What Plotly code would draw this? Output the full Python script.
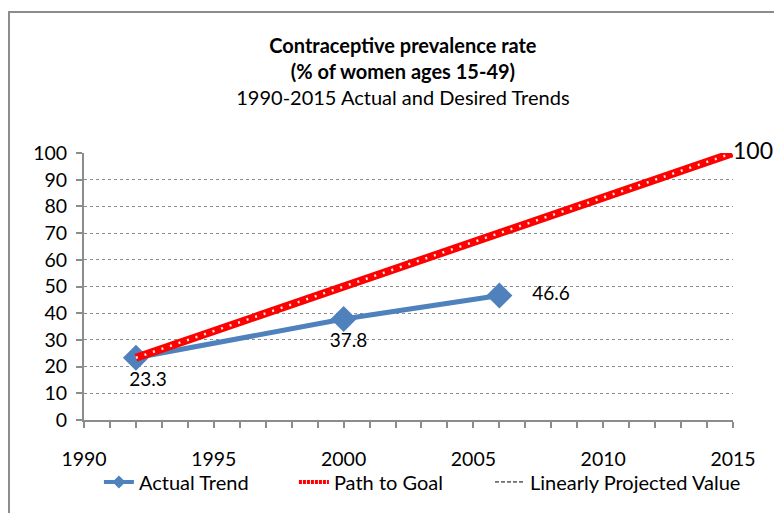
import plotly.graph_objects as go

# data
actual_years = [1992, 2000, 2006]
actual_vals = [23.3, 37.8, 46.6]
goal_years = [1992, 2015]
goal_vals = [23.3, 100]

FONT = "Lato"
BLUE = "#4F81BD"
GRAY = "#8c8c8c"

fig = go.Figure()

fig.add_trace(go.Scatter(
    x=actual_years, y=actual_vals, name="Actual Trend", showlegend=False,
    mode="lines+markers+text", cliponaxis=False,
    line=dict(color=BLUE, width=5),
    marker=dict(symbol="diamond", size=20, color=BLUE),
    text=["     %s" % actual_vals[0], "  %s" % actual_vals[1], "    %s" % actual_vals[2]],
    textposition=["bottom center", "bottom center", "middle right"],
    textfont=dict(size=19, color="black", family=FONT),
))

fig.add_trace(go.Scatter(
    x=goal_years, y=goal_vals, name="Path to Goal", showlegend=False,
    mode="lines+text", cliponaxis=False,
    line=dict(color="#ff0000", width=8),
    text=["", str(goal_vals[-1])],
    textposition=["middle right", "middle right"],
    textfont=dict(size=23, color="black", family=FONT),
))
# white dots inside the red line
fig.add_trace(go.Scatter(
    x=goal_years, y=goal_vals, mode="lines", showlegend=False, hoverinfo="skip",
    line=dict(color="rgba(255,255,255,0.9)", width=2.5, dash="2px,7px"),
))

# legend entries
fig.add_trace(go.Scatter(
    x=[None], y=[None], name="Actual Trend", mode="lines+markers",
    line=dict(color=BLUE, width=4), marker=dict(symbol="diamond", size=10, color=BLUE),
))
fig.add_trace(go.Scatter(
    x=[None], y=[None], name="Path to Goal", mode="lines",
    line=dict(color="#ff0000", width=4, dash="3px,1px"),
))
fig.add_trace(go.Scatter(
    x=[None], y=[None], name="Linearly Projected Value", mode="lines", legend="legend2",
    line=dict(color="black", width=1, dash="4px,2px"),
))

leg = dict(orientation="h", xanchor="left", y=-0.232, yanchor="middle",
           bgcolor="rgba(0,0,0,0)", font=dict(size=20), tracegroupgap=0)

fig.update_layout(
    width=782, height=513,
    paper_bgcolor="white", plot_bgcolor="white",
    margin=dict(l=76, r=57, t=145, b=101, autoexpand=False),
    font=dict(family=FONT, size=19, color="black"),
    title=dict(
        text="<b>Contraceptive prevalence rate</b><br><b>(% of women ages 15-49)</b><br>1990-2015 Actual and Desired Trends",
        x=0.505, xref="container", xanchor="center",
        y=0.912, yref="container", yanchor="top",
        font=dict(size=20, family=FONT),
    ),
    legend=dict(leg, x=0.023, entrywidth=150),
    legend2=dict(leg, x=0.6256),
    shapes=[dict(type="rect", xref="paper", yref="paper",
                 x0=-0.1156, x1=1.068, y0=-0.45, y1=1.528,
                 line=dict(color=GRAY, width=2), layer="below")],
)

fig.update_xaxes(
    range=[1990, 2015], dtick=5, tick0=1990, tickangle=0,
    showgrid=False, showline=True, linecolor=GRAY, linewidth=2,
    ticks="outside", ticklen=6, tickcolor=GRAY, tickwidth=2,
    minor=dict(dtick=1, ticks="outside", ticklen=6, tickcolor=GRAY, tickwidth=2),
    ticklabelstandoff=15, zeroline=False, tickfont=dict(size=19.5),
)
fig.update_yaxes(
    range=[0, 100], dtick=10,
    showgrid=True, gridcolor=GRAY, griddash="dot", gridwidth=1,
    showline=True, linecolor=GRAY, linewidth=2,
    ticks="outside", ticklen=6, tickcolor=GRAY, tickwidth=2,
    ticklabelstandoff=5, zeroline=False, tickfont=dict(size=19.5),
)

fig.write_html("out.html")
